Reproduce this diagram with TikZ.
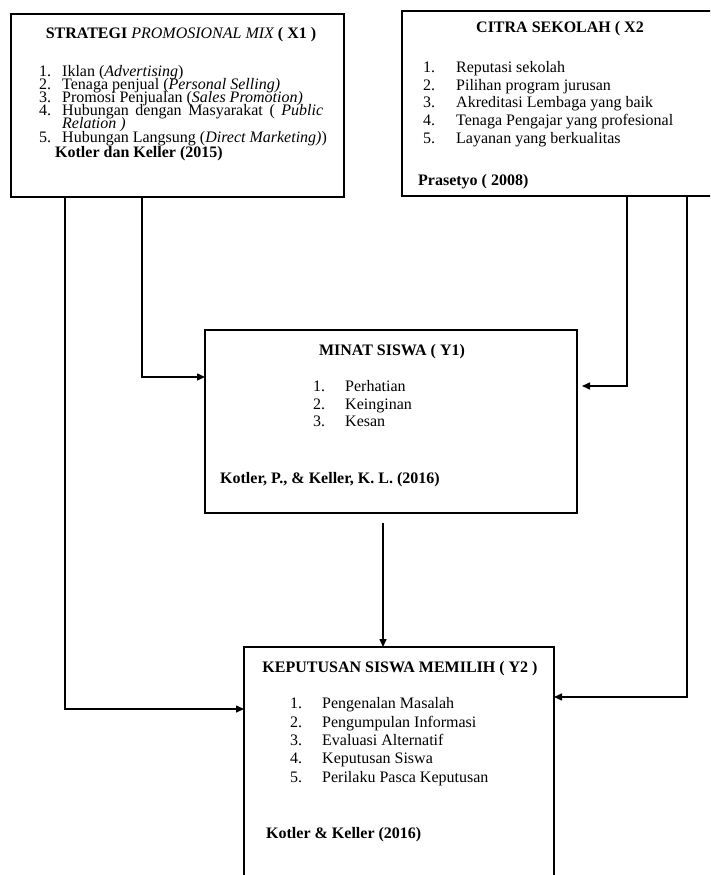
\documentclass[tikz,border=0pt]{standalone}
\usepackage{fontspec}
\setmainfont{Liberation Serif}
\usetikzlibrary{arrows.meta,calc}
\begin{document}
\begin{tikzpicture}[x=1pt,y=-1pt,
 box/.style={draw,line width=1.7pt,anchor=north west,inner sep=0pt,outer sep=0pt},
 conn/.style={line width=1.5pt,-{Triangle[length=8pt,width=7pt]}},
 plain/.style={line width=1.5pt},
 txt/.style={anchor=base west,inner sep=0pt,font=\fontsize{16}{18}\selectfont},
 btxt/.style={txt,font=\fontsize{16}{18}\selectfont\bfseries},
 ttl/.style={anchor=base,inner sep=0pt,font=\fontsize{16}{18}\selectfont\bfseries}]
\useasboundingbox (0,0) rectangle (710,875);
\clip (0,0) rectangle (710,875);
% boxes
\node[box,minimum width=333pt,minimum height=183pt] (X1) at (11,14) {};
\node[box,minimum width=313pt,minimum height=185pt] (X2) at (402,11) {};
\node[box,minimum width=372pt,minimum height=183pt] (Y1) at (205,330) {};
\node[box,minimum width=310pt,minimum height=250pt] (Y2) at (244,647) {};
% X1 text
\node[ttl] (x1t) at (181,38) {STRATEGI \mdseries\itshape PROMOSIONAL MIX \bfseries\upshape ( X1 )};
\node[txt] (x1n1) at (39,76) {1.};
\node[txt] (x1i1) at (62,76) {Iklan (\textit{Advertising})};
\node[txt] (x1n2) at (39,89) {2.};
\node[txt] (x1i2) at (62,89) {Tenaga penjual (\textit{Personal Selling)}};
\node[txt] (x1n3) at (39,102) {3.};
\node[txt] (x1i3) at (62,102) {Promosi Penjualan (\textit{Sales Promotion)}};
\node[txt] (x1n4) at (39,115) {4.};
\node[txt] (x1i4) at (62,115) {\makebox[261pt][s]{Hubungan dengan Masyarakat ( \textit{Public}}};
\node[txt] (x1i4b) at (62,128) {\textit{Relation )}};
\node[txt] (x1n5) at (39,142) {5.};
\node[txt] (x1i5) at (62,142) {Hubungan Langsung (\textit{Direct Marketing)})};
\node[btxt] (x1s) at (55,157) {Kotler dan Keller (2015)};
% X2 text
\node[ttl] (x2t) at (560,33) {CITRA SEKOLAH ( X2};
\node[txt] (x2n1) at (423,72) {1.};
\node[txt] (x2i1) at (456,72) {Reputasi sekolah};
\node[txt] (x2n2) at (423,90) {2.};
\node[txt] (x2i2) at (456,90) {Pilihan program jurusan};
\node[txt] (x2n3) at (423,107) {3.};
\node[txt] (x2i3) at (456,107) {Akreditasi Lembaga yang baik};
\node[txt] (x2n4) at (423,125) {4.};
\node[txt] (x2i4) at (456,125) {Tenaga Pengajar yang profesional};
\node[txt] (x2n5) at (423,143) {5.};
\node[txt] (x2i5) at (456,143) {Layanan yang berkualitas};
\node[btxt] (x2s) at (418,185) {Prasetyo ( 2008)};
% Y1 text
\node[ttl] (y1t) at (392,355) {MINAT SISWA ( Y1)};
\node[txt] (y1n1) at (313,391) {1.};
\node[txt] (y1i1) at (345,391) {Perhatian};
\node[txt] (y1n2) at (313,409) {2.};
\node[txt] (y1i2) at (345,409) {Keinginan};
\node[txt] (y1n3) at (313,426) {3.};
\node[txt] (y1i3) at (345,426) {Kesan};
\node[btxt] (y1s) at (220,483) {Kotler, P., \& Keller, K. L. (2016)};
% Y2 text
\node[ttl] (y2t) at (400,672) {KEPUTUSAN SISWA MEMILIH ( Y2 )};
\node[txt] (y2n1) at (290,708) {1.};
\node[txt] (y2i1) at (322,708) {Pengenalan Masalah};
\node[txt] (y2n2) at (290,727) {2.};
\node[txt] (y2i2) at (322,727) {Pengumpulan Informasi};
\node[txt] (y2n3) at (290,745) {3.};
\node[txt] (y2i3) at (322,745) {Evaluasi Alternatif};
\node[txt] (y2n4) at (290,763) {4.};
\node[txt] (y2i4) at (322,763) {Keputusan Siswa};
\node[txt] (y2n5) at (290,782) {5.};
\node[txt] (y2i5) at (322,782) {Perilaku Pasca Keputusan};
\node[btxt] (y2s) at (266,838) {Kotler \& Keller (2016)};
% connectors
\draw[conn] (65,0 |- X1.south) |- (Y2.west |- 0,709);
\draw[conn] (142,0 |- X1.south) |- (Y1.west |- 0,377);
\draw[conn,shorten >=5pt] (627,0 |- X2.south) |- (Y1.east |- 0,386);
\draw[conn] (687,0 |- X2.south) |- (Y2.east |- 0,697);
\draw[conn] ($(383,0 |- Y1.south)+(0,10)$) -- (383,0 |- Y2.north);
\end{tikzpicture}
\end{document}
